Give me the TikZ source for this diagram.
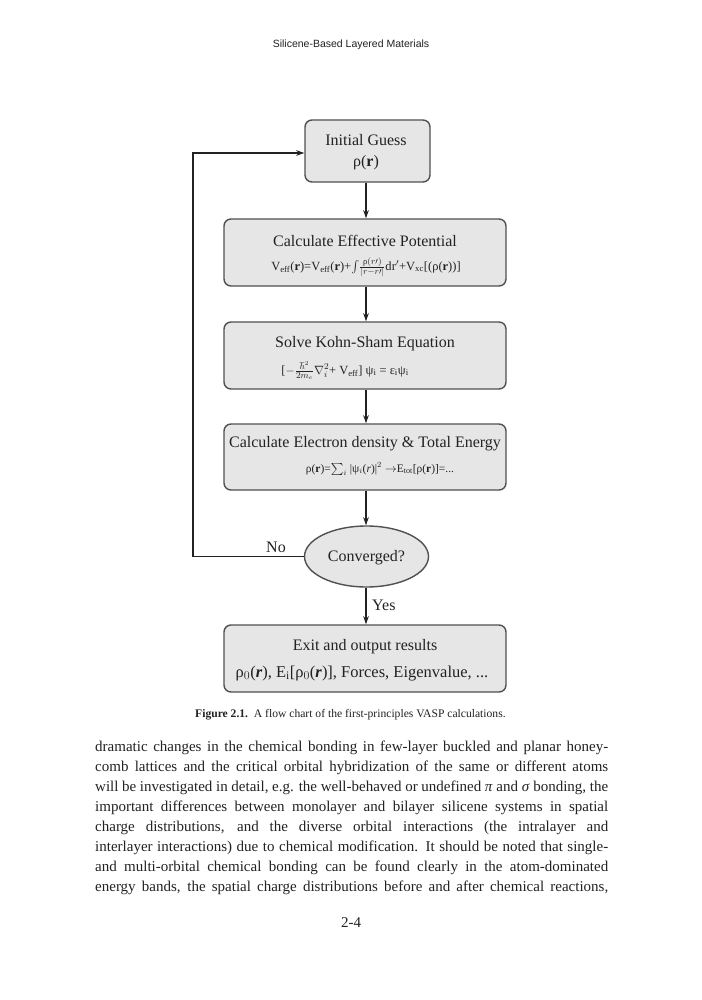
\documentclass[tikz,border=0pt]{standalone}
\usepackage{fontspec}
\setmainfont{Liberation Serif}
\setsansfont{Liberation Sans}
\usepackage{amsmath}
\usetikzlibrary{shapes.geometric,arrows.meta}
\definecolor{boxfill}{HTML}{E6E6E6}
\definecolor{boxline}{HTML}{505050}
\definecolor{ink}{HTML}{222222}
\begin{document}
\begin{tikzpicture}[x=1pt,y=-1pt,
  flowbox/.style={draw=boxline,fill=boxfill,line width=1.4pt,rounded corners=7pt,inner sep=0pt},
  flowlink/.style={draw=ink,line width=1.3pt,-{Stealth[length=8pt,width=5.5pt]}},
  titletext/.style={anchor=base,inner sep=0pt,text=ink,font=\fontsize{16}{19}\selectfont},
  formtext/.style={anchor=base,inner sep=0pt,text=ink,font=\fontsize{12.5}{15}\selectfont},
  bodyline/.style={anchor=base west,inner sep=0pt,text=ink,font=\fontsize{15}{20}\selectfont}]
\useasboundingbox[fill=white] (0,0) rectangle (701,1000);

% header
\node[anchor=base,inner sep=0pt,text=ink,font=\sffamily\fontsize{10.5}{12}\selectfont] (header) at (351,48) {Silicene-Based Layered Materials};

% boxes
\node[flowbox,minimum width=125pt,minimum height=62pt] (guess) at (367.5,151) {};
\node[flowbox,minimum width=282pt,minimum height=67pt] (pot) at (365,252.5) {};
\node[flowbox,minimum width=282pt,minimum height=67pt] (ks) at (365,355.5) {};
\node[flowbox,minimum width=282pt,minimum height=66pt] (dens) at (365,457) {};
\node[ellipse,draw=boxline,fill=boxfill,line width=1.4pt,minimum width=124pt,minimum height=61pt,inner sep=0pt] (conv) at (366.5,556.5) {};
\node[flowbox,minimum width=282pt,minimum height=67pt] (exit) at (365,658.5) {};

% box texts
\node[titletext] (guessT) at (366,146) {Initial Guess};
\node[titletext] (guessF) at (366,167) {ρ(\textbf{r})};
\node[titletext] (potT) at (365,246) {Calculate Effective Potential};
\node[formtext] (potF) at (366,270) {V$_{\text{eff}}$(\textbf{r})=V$_{\text{eff}}$(\textbf{r})+$\int\!\frac{\text{ρ}(r\prime)}{|r-r\prime|}$d\kern0.3pt r$'$+V$_{\text{xc}}$[(ρ(\textbf{r}))]};
\node[titletext] (ksT) at (365,347) {Solve Kohn-Sham Equation};
\node[formtext] (ksF) at (345,374) {[$-\frac{\hbar^2}{2m_e}\nabla_i^2$+ V$_{\text{eff}}$] ψ$_\text{i}$ = ε$_\text{i}$ψ$_\text{i}$};
\node[titletext] (densT) at (365,447) {Calculate Electron density \& Total Energy};
\node[anchor=base,inner sep=0pt,text=ink,font=\fontsize{11.5}{14}\selectfont] (densF) at (380,472) {ρ(\textbf{r})=$\textstyle\sum_i$ |ψ$_i$(\textit{r})|$^2$ $\rightarrow$E$_{\text{tot}}$[ρ(\textbf{r})]=...};
\node[titletext] (convT) at (366.5,561) {Converged?};
\node[titletext] (exitT) at (365,650) {Exit and output results};
\node[titletext,font=\fontsize{16.5}{19}\selectfont] (exitF) at (362,677) {ρ$_0$(\textbf{\textit{r}}), E$_\text{i}$[ρ$_0$(\textbf{\textit{r}})], Forces, Eigenvalue, ...};

% connectors
\coordinate (loopcorner) at (193,556.5);
\draw[flowlink] (guess.south -| 366,0) -- (pot.north -| 366,0);
\draw[flowlink] (pot.south -| 366,0) -- (ks.north -| 366,0);
\draw[flowlink] (ks.south -| 366,0) -- (dens.north -| 366,0);
\draw[flowlink] (dens.south -| 366,0) -- (conv.north -| 366,0);
\draw[flowlink] (conv.south -| 366,0) -- (exit.north -| 366,0);
\draw[flowlink] (conv.west) -- (loopcorner) |- (guess.west |- 0,153) ;
\node[titletext] (nolabel) at (276,552) {No};
\node[titletext,anchor=base west] (yeslabel) at (372,610) {Yes};

% caption
\node[anchor=base west,inner sep=0pt,text=ink,font=\fontsize{11.6}{13}\selectfont] (caption) at (195,717)
  {\textbf{Figure 2.1.}\ \ A flow chart of the first-principles VASP calculations.};

% body text
\node[bodyline] (l1) at (95,751) {\makebox[513pt][s]{dramatic changes in the chemical bonding in few-layer buckled and planar honey-}};
\node[bodyline] (l2) at (95,771) {\makebox[513pt][s]{comb lattices and the critical orbital hybridization of the same or different atoms}};
\node[bodyline] (l3) at (95,791) {\makebox[513pt][s]{will be investigated in detail, e.g. the well-behaved or undefined \textit{π} and \textit{σ} bonding, the}};
\node[bodyline] (l4) at (95,811) {\makebox[513pt][s]{important differences between monolayer and bilayer silicene systems in spatial}};
\node[bodyline] (l5) at (95,831) {\makebox[513pt][s]{charge distributions, and the diverse orbital interactions (the intralayer and}};
\node[bodyline] (l6) at (95,851) {\makebox[513pt][s]{interlayer interactions) due to chemical modification. It should be noted that single-}};
\node[bodyline] (l7) at (95,871) {\makebox[513pt][s]{and multi-orbital chemical bonding can be found clearly in the atom-dominated}};
\node[bodyline] (l8) at (95,891) {\makebox[513pt][s]{energy bands, the spatial charge distributions before and after chemical reactions,}};

% page number
\node[anchor=base,inner sep=0pt,text=ink,font=\fontsize{15}{18}\selectfont] (pagenum) at (351,927) {2-4};
\end{tikzpicture}
\end{document}
